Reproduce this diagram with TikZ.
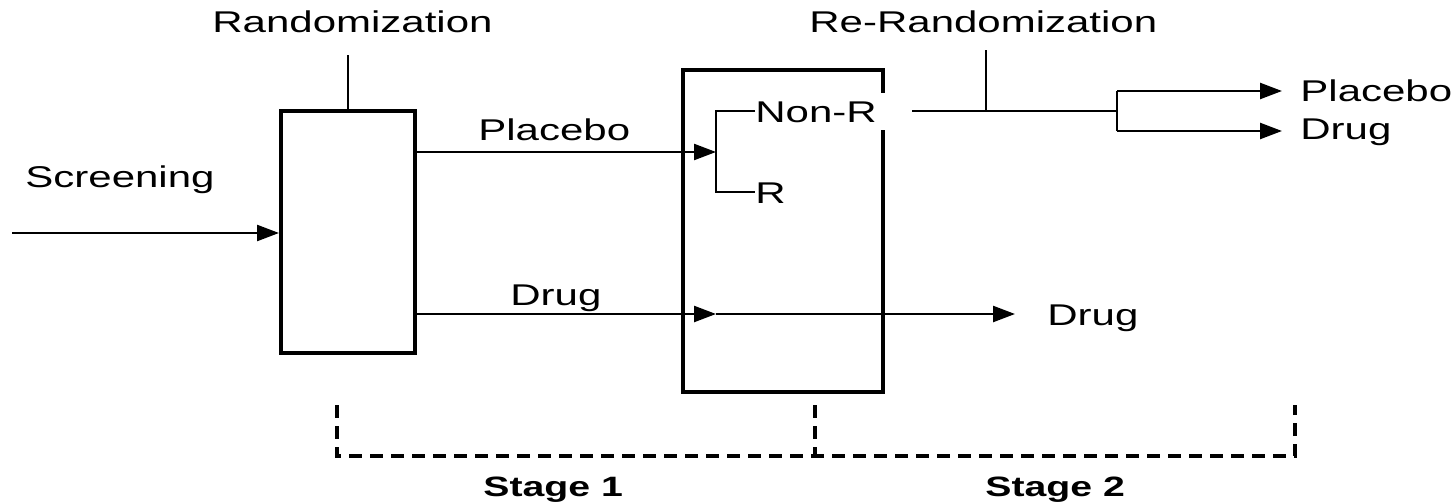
\documentclass[tikz,border=0pt]{standalone}
\usepackage{fontspec}
\setmainfont{Liberation Sans}[FakeStretch=1.4]
\newfontfamily\stagefont{Liberation Sans}[FakeStretch=1.4]
\usetikzlibrary{arrows.meta}
\begin{document}
\begin{tikzpicture}[x=0.5pt,y=-0.5pt,
  lbl/.style={inner sep=0pt,anchor=base west,font=\fontsize{15pt}{18pt}\selectfont},
  stagelbl/.style={inner sep=0pt,anchor=base west,font=\stagefont\bfseries\fontsize{14pt}{16pt}\selectfont},
  boxline/.style={line width=2pt},
  tick/.style={line width=1.4pt},
  conn/.style={line width=1.2pt},
  arr/.style={conn,-{Triangle[length=11pt,width=8pt]}},
  dashline/.style={line width=1.8pt,dash pattern=on 6.5pt off 4pt}]
\useasboundingbox (0,0) rectangle (1454,502);
% texts
\node[lbl] (trand) at (212,33) {Randomization};
\node[lbl] (trerand) at (809,33) {Re-Randomization};
\node[lbl] (tscreen) at (25,188) {Screening};
\node[lbl] (tplac) at (478,141) {Placebo};
\node[lbl] (tdrug) at (510,305) {Drug};
\node[lbl] (tnonr) at (755,123) {Non-R};
\node[lbl] (tr) at (755,204) {R};
\node[lbl] (tplac2) at (1300,102) {Placebo};
\node[lbl] (tdrug2) at (1300,140) {Drug};
\node[lbl] (tdrug3) at (1047,325) {Drug};
\node[stagelbl] (ts1) at (483,496) {Stage 1};
\node[stagelbl] (ts2) at (985,496) {Stage 2};
% randomization box
\node[boxline,draw,rectangle,minimum width=67pt,minimum height=121pt,inner sep=0pt] (box1) at (348,232) {};
\coordinate (randtop) at (348,55);
\draw[tick] (box1.north) -- (randtop);
% second box (with gap on right side)
\coordinate (b2tl) at (683,70);
\coordinate (b2tr) at (883,70);
\coordinate (b2gapt) at (883,93);
\coordinate (b2gapb) at (883,130);
\coordinate (b2br) at (883,392);
\coordinate (b2bl) at (683,392);
\draw[boxline] (b2gapt) -- (b2tr) -- (b2tl) -- (b2bl) -- (b2br) -- (b2gapb);
% screening
\coordinate (scrstart) at (12,233);
\draw[arr] (scrstart) -- (scrstart -| box1.west);
% placebo
\coordinate (brk) at (716,152);
\draw[arr] (box1.east |- brk) -- (brk);
\coordinate (brktop) at (716,111);
\coordinate (brkbot) at (716,192);
\draw[conn] (tnonr.west |- brktop) -- (brktop) -- (brkbot) -- (tr.west |- brkbot);
% drug
\coordinate (dmid) at (716,314);
\coordinate (dend) at (1015,314);
\draw[arr] (box1.east |- dmid) -- (dmid);
\draw[arr] (dmid) -- (dend);
% re-randomization
\coordinate (rrstart) at (912,111);
\coordinate (rrsplit) at (1117,111);
\coordinate (rrtick) at (986,111);
\coordinate (rrticktop) at (986,50);
\draw[conn] (rrstart) -- (rrsplit);
\draw[tick] (rrtick) -- (rrticktop);
\coordinate (rrtop) at (1117,91);
\coordinate (rrbot) at (1117,131);
\draw[conn] (rrtop) -- (rrbot);
\draw[arr] (rrtop) -- (1282,91);
\draw[arr] (rrbot) -- (1282,131);
% stage bracket
\coordinate (sl) at (337,405);
\coordinate (sm) at (815,405);
\coordinate (sr) at (1295,405);
\coordinate (sy) at (0,456);
\draw[dashline] (sl) -- (sl |- sy) -- (sr |- sy) -- (sr);
\draw[dashline] (sm) -- (sm |- sy);
\end{tikzpicture}
\end{document}
